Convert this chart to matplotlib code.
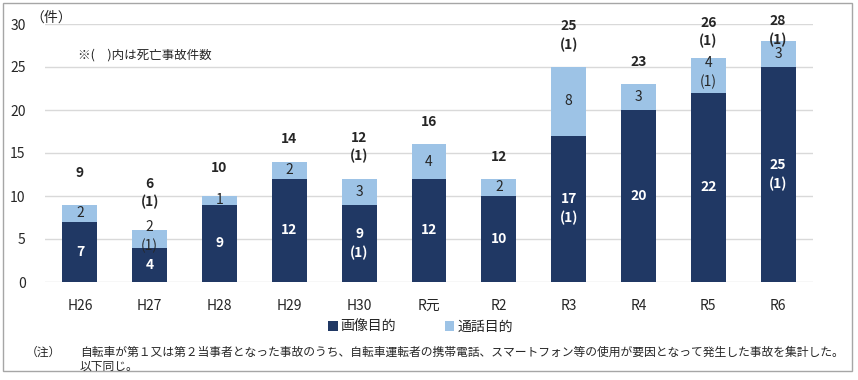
import numpy as np
import matplotlib
matplotlib.use("Agg")
import matplotlib.pyplot as plt
from matplotlib.patches import Rectangle

plt.rcParams['font.family'] = ['Noto Sans CJK JP', 'DejaVu Sans']

# ===== DATA =====
years = ["H26", "H27", "H28", "H29", "H30", "R元", "R2", "R3", "R4", "R5", "R6"]
image_cnt = [7, 4, 9, 12, 9, 12, 10, 17, 20, 22, 25]   # 画像目的
call_cnt = [2, 2, 1, 2, 3, 4, 2, 8, 3, 4, 3]           # 通話目的
fatal_image = [0, 0, 0, 0, 1, 0, 0, 1, 0, 0, 1]
fatal_call = [0, 1, 0, 0, 0, 0, 0, 0, 0, 1, 0]
fatal_total = [0, 1, 0, 0, 1, 0, 0, 1, 0, 1, 1]

# label offsets above bar tops (points), as placed by hand in the original
total_pad = [18, 15, 15, 11, 11, 11, 11, 11, 11, 7, -4]

dark = '#203864'
light = '#9DC3E6'
txt = '#262626'

fig = plt.figure(figsize=(8.58, 3.80), dpi=100)
# outer frame
fig.patches.append(Rectangle((3 / 858, 1 - 371 / 380), 849 / 858, 368 / 380,
                             transform=fig.transFigure, fill=False,
                             edgecolor='#A6A6A6', linewidth=1.0))

ax = fig.add_axes([45 / 858, 1 - 282 / 380, 768 / 858, 258 / 380])
x = np.arange(len(years))
totals = [a + b for a, b in zip(image_cnt, call_cnt)]

b1 = ax.bar(x, image_cnt, width=0.5, color=dark, label='画像目的', zorder=3)
b2 = ax.bar(x, call_cnt, width=0.5, bottom=image_cnt, color=light, label='通話目的', zorder=3)

def lab(v, f):
    return f"{v}\n(1)" if f else f"{v}"

for i in range(len(years)):
    ax.text(x[i], image_cnt[i] / 2, lab(image_cnt[i], fatal_image[i]), ha='center', va='center',
            color='white', fontsize=10, fontweight='bold', linespacing=1.4, zorder=4)
    ax.text(x[i], image_cnt[i] + call_cnt[i] / 2 + (0.3 if fatal_call[i] else 0),
            lab(call_cnt[i], fatal_call[i]), ha='center', va='center',
            color=txt, fontsize=10, linespacing=1.4, zorder=4)
    ax.annotate(lab(totals[i], fatal_total[i]), (x[i], totals[i]), xytext=(0, total_pad[i]),
                textcoords='offset points', ha='center', va='bottom', color=txt,
                fontsize=10, fontweight='bold', linespacing=1.4, annotation_clip=False,
                zorder=5)

ax.set_ylim(0, 30)
ax.set_xlim(-0.5, len(years) - 0.5)
ax.set_yticks(range(0, 31, 5))
ax.set_xticks(x)
ax.set_xticklabels(years)
ax.grid(axis='y', color='#D9D9D9', linewidth=1.0, zorder=0)
for s in ax.spines.values():
    s.set_visible(False)
ax.tick_params(axis='both', length=0, labelsize=10, labelcolor=txt)
ax.tick_params(axis='y', pad=14)
ax.tick_params(axis='x', pad=12)

fig.text(30 / 858, 1 - 18 / 380, '（件）', fontsize=10, color=txt, va='center', ha='left')
fig.text(78 / 858, 1 - 55 / 380, '※(　)内は死亡事故件数', fontsize=9, color=txt, va='center', ha='left')

fig.legend(handles=[b1, b2], loc='center', bbox_to_anchor=(0.49, 1 - 327 / 380), ncol=2,
           frameon=False, fontsize=10, handlelength=0.7, handleheight=0.7,
           handletextpad=0.2, columnspacing=3.5, labelcolor=txt)

fig.text(26 / 858, 1 - 352 / 380, '（注）', fontsize=8.5, color=txt, va='center', ha='left')
fig.text(80 / 858, 1 - 352 / 380,
         '自転車が第１又は第２当事者となった事故のうち、自転車運転者の携帯電話、スマートフォン等の使用が要因となって発生した事故を集計した。',
         fontsize=8.5, color=txt, va='center', ha='left')
fig.text(80 / 858, 1 - 366 / 380, '以下同じ。', fontsize=8.5, color=txt, va='center', ha='left')

fig.savefig('out.png', dpi=100)
